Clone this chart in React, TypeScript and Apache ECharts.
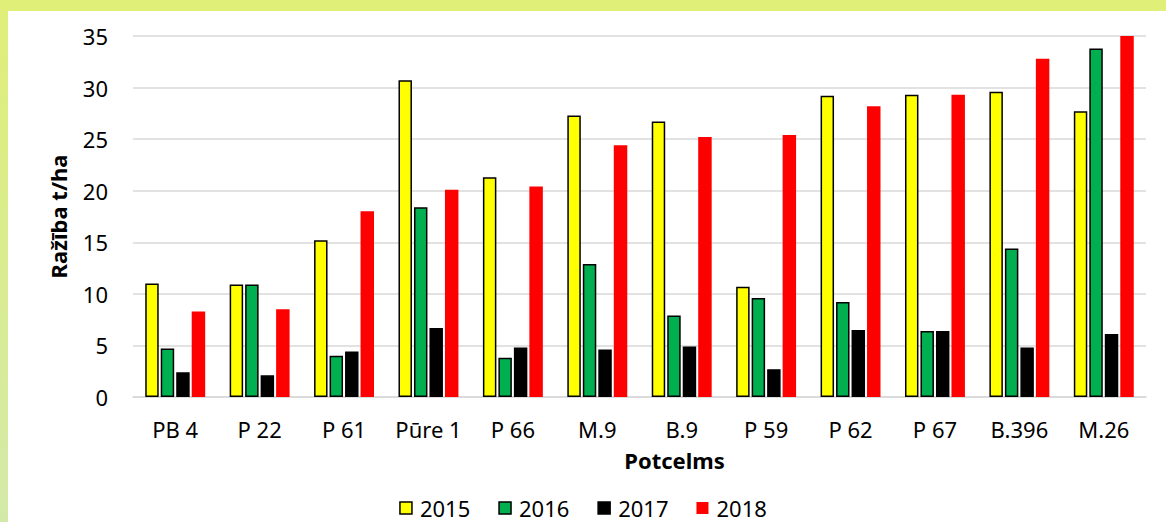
import React, { useEffect, useRef } from "react";
import * as echarts from "echarts";

const categories = ["PB 4", "P 22", "P 61", "Pūre 1", "P 66", "M.9", "B.9", "P 59", "P 62", "P 67", "B.396", "M.26"];
const years = ["2015", "2016", "2017", "2018"];
const v2015 = [11.0, 10.9, 15.2, 30.7, 21.3, 27.3, 26.7, 10.7, 29.2, 29.3, 29.6, 27.7];
const v2016 = [4.7, 10.9, 4.0, 18.4, 3.8, 12.9, 7.9, 9.6, 9.2, 6.4, 14.4, 33.8];
const v2017 = [2.4, 2.1, 4.4, 6.7, 4.8, 4.6, 4.9, 2.7, 6.5, 6.4, 4.8, 6.1];
const v2018 = [8.3, 8.5, 18.0, 20.1, 20.4, 24.4, 25.2, 25.4, 28.2, 29.3, 32.8, 35.0];
const colors = ["#ffff00", "#00b050", "#000000", "#ff0000"];

export default function App() {
  const ref = useRef<HTMLDivElement>(null);
  useEffect(() => {
    document.body.style.margin = "0";
    const chart = echarts.init(ref.current!, null, { renderer: "svg" });
    const font = "'Noto Sans', sans-serif";
    const dataSets = [v2015, v2016, v2017, v2018];
    chart.setOption({
      animation: false,
      backgroundColor: "#ffffff",
      textStyle: { fontFamily: font },
      graphic: [
        { type: "rect", shape: { x: 0, y: 0, width: 1166, height: 11 }, style: { fill: "#e0ef78" }, silent: true },
        {
          type: "rect",
          shape: { x: 0, y: 0, width: 8, height: 522 },
          style: {
            fill: new echarts.graphic.LinearGradient(0, 0, 0, 1, [
              { offset: 0, color: "#e0ef78" },
              { offset: 1, color: "#d3e9a8" },
            ]),
          },
          silent: true,
        },
      ],
      grid: { left: 133, right: 20, top: 36, bottom: 125, containLabel: false },
      legend: {
        top: 496,
        left: 600,
        padding: 0,
        itemWidth: 12,
        itemHeight: 12,
        itemGap: 28,
        textStyle: { fontSize: 22, color: "#000", fontFamily: font, lineHeight: 24, padding: [0, 0, 0, 3] },
        data: years.map((y, i) => ({
          name: y,
          icon: "rect",
          itemStyle: i === 3 ? { color: colors[i], borderWidth: 0 } : { color: colors[i], borderColor: "#000", borderWidth: 1.5 },
        })),
      },
      xAxis: {
        type: "category",
        data: categories,
        name: "Potcelms",
        nameLocation: "middle",
        nameGap: 52,
        nameTextStyle: { fontSize: 22, fontWeight: "bold", color: "#000", fontFamily: font, padding: [0, 0, 0, 70] },
        axisLine: { lineStyle: { color: "#d9d9d9", width: 1.5 } },
        axisTick: { show: false },
        axisLabel: { fontSize: 22, color: "#000", margin: 21, fontFamily: font, interval: 0 },
      },
      yAxis: {
        type: "value",
        min: 0,
        max: 35,
        interval: 5,
        name: "Ražība t/ha",
        nameLocation: "middle",
        nameGap: 64,
        nameTextStyle: { fontSize: 22, fontWeight: "bold", color: "#000", fontFamily: font },
        axisLine: { show: false },
        axisTick: { show: false },
        splitLine: { lineStyle: { color: "#d9d9d9", width: 1.5 } },
        axisLabel: { fontSize: 22, color: "#000", margin: 25, fontFamily: font },
      },
      series: years.map((y, i) => ({
        name: y,
        type: "bar",
        data: dataSets[i],
        barGap: "15%",
        barCategoryGap: "29%",
        itemStyle: i === 3 ? { color: colors[i] } : { color: colors[i], borderColor: "#000", borderWidth: 1.5 },
      })),
    });
    chart.setOption({ legend: { left: "center" } });
    return () => chart.dispose();
  }, []);
  return <div ref={ref} style={{ width: 1166, height: 522 }} />;
}
